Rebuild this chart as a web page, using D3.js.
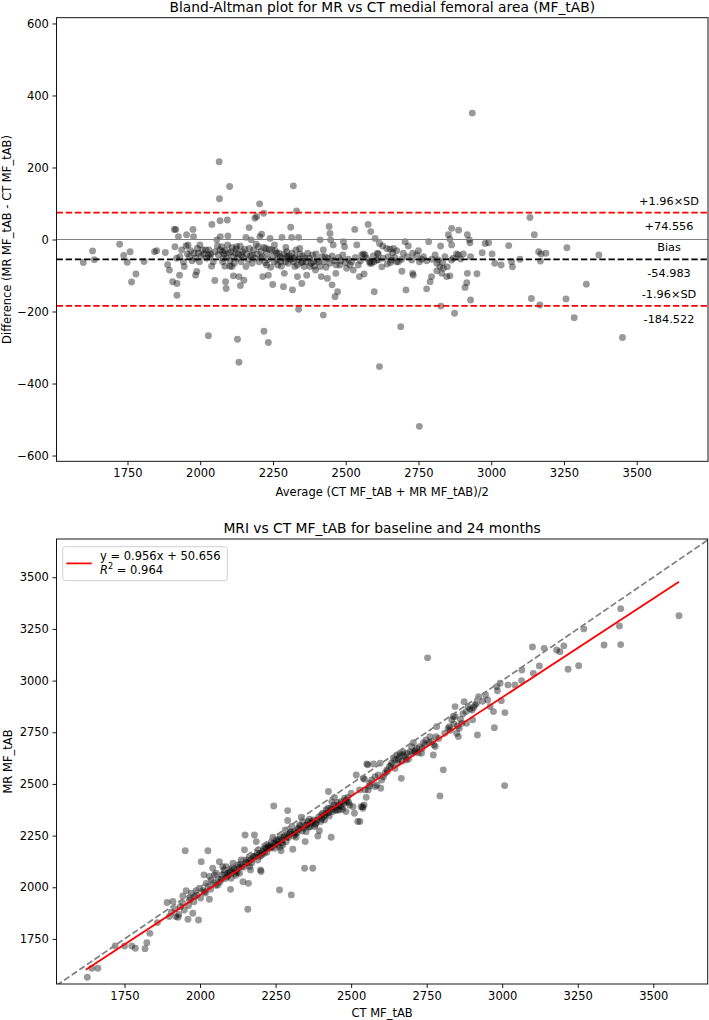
<!DOCTYPE html>
<html><head><meta charset="utf-8">
<script src="https://cdn.jsdelivr.net/npm/d3@7"></script>
<style>
body{margin:0;background:#fff;}
svg text{font-family:"DejaVu Sans",sans-serif;fill:#000;}
</style></head><body>
<svg id="c" width="709" height="1020"></svg>
<script>
// ---------- DATA ----------
const baXTicks = [1750,2000,2250,2500,2750,3000,3250,3500];
const baYTicks = [-600,-400,-200,0,200,400,600];
const baBias = -54.983;
const baUpper = 74.556;
const baLower = -184.522;
const baLabels = ["+1.96×SD","+74.556","Bias","-54.983","-1.96×SD","-184.522"];
// [average, difference]
const baPoints = [
[1598,-64],[1630,-32],[1636,-56],[1723,-13],[1737,-44],[1749,-63],[1759,-34],[1764,-118],[1779,-96],[1807,-61],[1843,-34],[1850,-31],[1880,-36],[1888,-70],[1894,-85],[1905,-117],[1920,-122],[1920,-155],[1911,28],[1916,28],[1925,8],[1929,-99],[1945,-75],[1953,13],[1958,-15],[1975,28],[1977,8],[1984,-99],[1988,-89],[1993,-38],[1999,-15],[2019,-29],[2028,-43],[2034,-48],[2039,-74],[2040,42],[2050,-114],[2057,-1],[2065,216],[2066,113],[2068,52],[2069,8],[2077,-34],[2079,-52],[2085,-74],[2087,-117],[2089,-136],[2093,54],[2095,10],[2101,147],[2102,-74],[2109,-75],[2114,-101],[2121,-38],[2125,-20],[2133,-103],[2138,-128],[2142,-43],[2150,-113],[2157,-75],[2157,6],[2168,33],[2175,-1],[2179,-43],[2188,59],[2194,64],[2200,-20],[2204,99],[2205,8],[2209,-52],[2211,15],[2215,-103],[2218,73],[2225,-25],[2228,-71],[2234,-99],[2240,3],[2246,-29],[2249,-125],[2255,-15],[2263,-38],[2266,-71],[2276,-62],[2281,6],[2286,-131],[2289,-94],[2294,-22],[2298,-48],[2303,-52],[2311,34],[2314,6],[2317,-140],[2320,149],[2322,-52],[2325,-75],[2331,79],[2334,-103],[2338,6],[2342,-25],[2349,-122],[2352,-62],[2360,-52],[2366,-99],[2377,-75],[2389,-62],[2396,-85],[2402,-57],[2412,-1],[2416,-103],[2423,-29],[2429,-48],[2437,-108],[2443,36],[2446,17],[2448,-1],[2453,-126],[2457,-15],[2463,-159],[2466,-94],[2472,-145],[2480,-71],[2492,-6],[2496,-20],[2503,-80],[2515,-71],[2526,-85],[2531,28],[2538,-15],[2547,-103],[2555,-43],[2563,-96],[2566,-43],[2577,42],[2586,22],[2589,-66],[2598,-145],[2601,3],[2609,-38],[2616,-11],
[2028,-267],[2128,-277],[2219,-255],[2234,-286],[2133,-341],[2338,-194],[2423,-210],[2616,-353],[2753,-519],
[1913,-20],[1919,-52],[1930,-48],[1936,-29],[1942,-62],[1951,-18],[1956,-40],[1963,-48],[1967,-31],[1972,-59],[1979,-38],[1983,-52],[1990,-25],[1997,-62],[2003,-46],[2008,-29],[2013,-40],[2022,-52],[2030,-29],[2036,-40],[2045,-62],[2051,-34],[2059,-18],[2062,-43],[2068,-29],[2074,-20],[2077,-62],[2082,-40],[2086,-31],[2091,-50],[2094,-15],[2098,-38],[2102,-59],[2106,-34],[2109,-22],[2114,-48],[2117,-66],[2123,-27],[2128,-52],[2131,-40],[2137,-18],[2140,-62],[2145,-34],[2148,-50],[2153,-27],[2160,-40],[2165,-57],[2169,-25],[2173,-46],[2178,-66],[2183,-29],[2188,-52],[2192,-13],[2196,-40],[2202,-62],[2208,-34],[2213,-48],[2219,-22],[2223,-64],[2228,-38],[2233,-55],[2237,-27],[2242,-77],[2249,-46],[2254,-62],[2258,-31],[2265,-55],[2270,-38],[2274,-48],[2279,-74],[2283,-52],[2288,-40],[2293,-62],[2297,-34],[2302,-66],[2306,-46],[2311,-55],[2315,-38],[2320,-62],[2326,-48],[2329,-29],[2334,-71],[2338,-55],[2343,-40],[2347,-64],[2352,-46],[2357,-75],[2364,-62],[2369,-38],[2375,-52],[2381,-66],[2386,-43],[2392,-74],[2398,-40],[2406,-62],[2412,-75],[2419,-48],[2425,-62],[2432,-77],[2439,-52],[2446,-66],[2453,-46],[2460,-59],[2467,-71],[2475,-50],[2483,-59],[2490,-43],[2499,-64],[2509,-55],[2520,-62],[2533,-50],[2543,-71],[2551,-59],[2561,-40],[2572,-52],[2583,-62],[2595,-46],[2606,-57],[2612,-40],
[2627,-18],[2641,-25],[2652,-27],[2664,-25],[2661,-37],[2675,-31],[2692,-55],[2704,-6],[2715,-18],[2730,-38],[2750,-31],[2761,-55],[2785,-6],[2807,-43],[2826,-18],[2853,13],[2858,1],[2864,31],[2864,-15],[2881,-40],[2888,26],[2904,-40],[2918,13],[2925,-1],[2927,-9],[2929,-48],[2969,-37],[2979,-11],[2991,-9],[3003,-40],[3012,-66],[3034,-71],[3060,-17],[3070,-62],[3073,-76],[3099,-55],[3133,61],[3148,13],[3163,-34],[3169,-60],[3171,-40],[3188,-38],[3260,-23],[3370,-43],
[2583,-66],[2597,-62],[2624,-76],[2643,-68],[2654,-64],[2675,-62],[2693,-88],[2707,-140],[2730,-94],[2732,-99],[2778,-137],[2790,-117],[2795,-103],[2813,-87],[2824,-76],[2830,-94],[2835,-80],[2847,-103],[2858,-101],[2864,-57],[2910,-133],[2916,-120],[2918,-94],[2929,-168],[2951,-95],[3138,-164],[3167,-182],[3257,-165],[3327,-124],[2827,-185],[2874,-205],[2689,-242],[3285,-217],[3451,-272],[2935,351],
[2612,-57],[2629,-52],[2646,-48],[2658,-57],[2669,-50],[2681,-62],[2698,-38],[2712,-48],[2727,-57],[2744,-43],[2753,-62],[2767,-48],[2778,-59],[2796,-55],[2813,-66],[2818,-57],[2833,-63],[2841,-48],[2849,-76],[2870,-52],[2887,-43],[2895,-54]
];

const scXTicks = [1750,2000,2250,2500,2750,3000,3250,3500];
const scYTicks = [1750,2000,2250,2500,2750,3000,3250,3500];
const fitSlope = 0.956;
const fitIntercept = 50.656;
const fitR2 = 0.964;
const fitRange = [1622, 3585];
// [CT, MR]
const scPoints = [
[1627,1565],[1642,1608],[1662,1608],[1719,1716],[1750,1716],[1774,1716],[1786,1705],[1818,1703],[1824,1732],[1834,1777],[1859,1829],[1891,1926],[1898,1858],[1910,1931],[1920,1858],[1927,1855],[1935,1906],[1943,1958],[1951,2177],[1954,1984],[1960,1845],[1965,1939],[1971,1971],[1976,1874],[1982,1955],[1987,1984],[1995,1842],[1998,1995],[2004,2124],[2013,2060],[2015,1979],[2020,2019],[2026,2177],[2031,1942],[2037,2035],[2042,2092],[2048,2060],[2059,2011],[2064,2124],[2070,2039],[2075,2100],[2081,2068],[2086,2100],[2092,2068],[2098,2084],[2101,1990],[2103,2044],[2109,2116],[2114,2068],[2120,2084],[2125,2108],[2131,2068],[2136,2132],[2142,2027],[2147,2181],[2149,2253],[2153,2132],[2158,1894],[2160,2019],[2164,2100],[2169,2132],[2175,2148],[2180,2253],[2186,2221],[2191,2132],[2197,2164],[2200,2084],[2202,2076],[2208,2173],[2213,2164],[2219,2189],[2224,2205],[2230,2189],[2235,2216],[2241,2242],[2244,2393],[2246,2189],[2252,2229],[2257,2205],[2263,1987],[2266,2245],[2268,2177],[2274,2205],[2277,2245],[2282,2277],[2285,2221],[2290,2371],[2290,2323],[2296,2258],[2302,1963],[2304,2294],[2307,2184],[2313,2269],[2318,2242],[2324,2285],[2329,2302],[2335,2339],[2340,2318],[2346,2092],[2348,2221],[2351,2269],[2357,2318],[2362,2329],[2368,2310],[2373,2092],[2376,2326],[2379,2294],[2384,2310],[2390,2248],[2395,2274],[2401,2350],[2406,2358],[2412,2326],[2417,2374],[2423,2382],[2425,2463],[2428,2345],[2434,2242],[2436,2414],[2439,2366],[2445,2435],[2450,2390],[2456,2410],[2461,2374],[2467,2414],[2472,2377],[2478,2431],[2483,2366],[2489,2435],[2495,2398],[2500,2455],[2506,2390],[2511,2358],[2517,2543],[2522,2318],[2528,2471],[2533,2390],[2539,2382],[2544,2523],[2550,2435],[2555,2593],[2561,2490],
[2031,2052],[2053,2068],[2079,2084],[2090,2052],[2105,2092],[2123,2071],[2138,2100],[2156,2116],[2167,2084],[2182,2148],[2193,2181],[2204,2156],[2216,2194],[2233,2194],[2244,2213],[2255,2221],[2264,2194],[2271,2229],[2288,2245],[2299,2269],[2310,2248],[2321,2264],[2332,2294],[2343,2285],[2354,2302],[2365,2294],[2388,2326],[2399,2318],[2410,2342],[2421,2358],[2432,2382],[2443,2398],[2454,2374],[2465,2393],[2476,2406],[2487,2414],
[3585,3314],[3392,3348],[3388,3264],[3392,3174],[3337,3172],[3270,3250],[3253,3072],[3218,3055],[3204,3168],[3191,3140],[3180,3148],[3139,3156],[3100,3163],[3123,3071],[3103,3035],[3065,3051],[3064,3000],[3042,2979],[3019,2979],[3009,2845],[3008,2492],[2993,2987],[2997,2903],[2982,2971],[2984,2951],[2971,2850],[2974,2772],[2960,2874],[2952,2906],[2918,2737],[2922,2922],[2910,2882],[2900,2858],[2902,2810],[2887,2874],[2882,2793],[2874,2898],[2866,2793],[2858,2769],[2855,2729],[2849,2745],[2844,2874],[2844,2826],[2838,2826],[2833,2810],[2825,2777],[2821,2769],[2805,2568],[2794,2442],[2783,2777],[2774,2689],[2778,2681],[2772,2640],[2761,2729],[2748,2713],[2753,3110],[2733,2648],[2717,2672],[2706,2700],[2695,2656],[2682,2616],[2673,2640],[2666,2527],[2662,2648],[2656,2619],[2651,2640],[2640,2624],[2634,2600],[2627,2584],[2618,2568],[2612,2552],[2596,2600],[2590,2543],[2579,2535],[2568,2519],[2557,2471],[2552,2597],[2540,2527],[2546,2471],[2538,2390],[2529,2318],[2543,2398],[2574,2597],[2585,2495],[2598,2479],
[2645,2616],[2660,2632],[2671,2656],[2684,2648],[2700,2680],[2711,2656],[2726,2680],[2739,2700],[2767,2705],[2781,2729],[2562,2503],[2579,2487],[2601,2519],[2607,2535],
[1905,1880],[1918,1895],[1930,1868],[1942,1925],[1948,1890],[1962,1912],[1968,1948],[1980,1930],[1990,1962],[2002,1948],[2010,1985],[2018,1972],[2027,2005],[2035,1990],[2044,2022],[2052,2010],[2060,2040],[2066,2025],[2072,2058],[2084,2042],[2095,2060],[2100,2075],[2112,2090],[2118,2058],[2128,2095],[2134,2112],[2145,2098],[2151,2120],[2162,2140],[2171,2118],[2178,2150],[2189,2165],[2199,2150],[2210,2185],[2221,2170],[2227,2200],[2238,2195],[2249,2210],[2260,2230],[2272,2215],[2280,2250],[2292,2240],[2301,2265],[2315,2258],[2326,2280],[2338,2272],[2350,2300],[2360,2290],[2371,2318],[2382,2305],[2393,2340],[2404,2330],[2415,2352],[2426,2360],[2437,2378],[2448,2372],[2459,2398],[2470,2390],[2481,2420],[2492,2410],
[2620,2560],[2632,2590],[2645,2575],[2655,2600],[2668,2610],[2680,2630],[2690,2620],[2702,2648],[2712,2660],[2722,2650],[2735,2672],[2745,2690],[2758,2700],[2790,2720],[2810,2745],[2828,2760],[2840,2790],[2852,2780],[2862,2812],[2870,2838],[2880,2850],[2893,2862],[2905,2870],[2915,2890],[2935,2900],[2945,2930]
];

// ---------- DRAW ----------
const svg = d3.select("#c");
const FS = 11.5;     // 10pt
const TFS = 13.8;    // 12pt
const LW = 1.73;     // 1.5pt
const DASH = "6.4,2.8";

function frame(g, L, T, R, B) {
  g.append("rect").attr("x", L).attr("y", T).attr("width", R - L).attr("height", B - T)
    .attr("fill", "none").attr("stroke", "#000").attr("stroke-width", 0.92);
}
function axes(g, x, y, L, T, R, B, xt, yt) {
  const fmt = d3.format("d");
  const ax = g.append("g").attr("transform", `translate(0,${B})`)
    .call(d3.axisBottom(x).tickValues(xt).tickFormat(fmt).tickSize(4).tickPadding(3.6).tickSizeOuter(0));
  const ay = g.append("g").attr("transform", `translate(${L},0)`)
    .call(d3.axisLeft(y).tickValues(yt).tickFormat(fmt).tickSize(4).tickPadding(3.6).tickSizeOuter(0));
  [ax, ay].forEach(a => {
    a.select(".domain").remove();
    a.selectAll("line").attr("stroke", "#000").attr("stroke-width", 0.92);
    a.selectAll("text").attr("font-size", FS).attr("font-family", "DejaVu Sans").attr("fill", "#000");
  });
}

// ===== Top: Bland-Altman =====
{
  const L = 56.5, T = 17.7, R = 708, B = 461.3;
  const x = d3.scaleLinear([1506, 3745], [L, R]);
  const y = d3.scaleLinear([-616, 616], [B, T]);
  const g = svg.append("g");
  g.append("g").selectAll("circle").data(baPoints).join("circle")
    .attr("cx", d => x(d[0])).attr("cy", d => y(d[1])).attr("r", 3.45)
    .attr("fill", "#000").attr("fill-opacity", 0.4);
  g.append("line").attr("x1", L).attr("x2", R).attr("y1", y(0)).attr("y2", y(0))
    .attr("stroke", "#808080").attr("stroke-width", 1.15);
  g.append("line").attr("x1", L).attr("x2", R).attr("y1", y(baBias)).attr("y2", y(baBias))
    .attr("stroke", "#000").attr("stroke-width", LW).attr("stroke-dasharray", DASH);
  [baUpper, baLower].forEach(v => {
    g.append("line").attr("x1", L).attr("x2", R).attr("y1", y(v)).attr("y2", y(v))
      .attr("stroke", "#ff0000").attr("stroke-width", LW).attr("stroke-dasharray", DASH);
  });
  const lineVals = [baUpper, baUpper, baBias, baBias, baLower, baLower];
  const offs = [-11.5, 14, -11.5, 14, -11.5, 14];
  baLabels.forEach((t, i) => {
    g.append("text").attr("x", 669).attr("y", y(lineVals[i]) + offs[i])
      .attr("text-anchor", "middle").attr("dominant-baseline", "central")
      .attr("font-size", 11.3).text(t);
  });
  frame(g, L, T, R, B);
  axes(g, x, y, L, T, R, B, baXTicks, baYTicks);
  g.append("text").attr("x", (L + R) / 2).attr("y", 12.3).attr("text-anchor", "middle")
    .attr("font-size", TFS).text("Bland-Altman plot for MR vs CT medial femoral area (MF_tAB)");
  g.append("text").attr("x", (L + R) / 2).attr("y", 496).attr("text-anchor", "middle")
    .attr("font-size", FS).text("Average (CT MF_tAB + MR MF_tAB)/2");
  g.append("text").attr("transform", `translate(11,${(T + B) / 2}) rotate(-90)`)
    .attr("text-anchor", "middle").attr("font-size", FS).text("Difference (MR MF_tAB - CT MF_tAB)");
}

// ===== Bottom: scatter =====
{
  const L = 56.5, T = 539, R = 707.7, B = 984;
  const x = d3.scaleLinear([1525, 3680], [L, R]);
  const y = d3.scaleLinear([1532, 3685], [B, T]);
  const g = svg.append("g");
  svg.append("clipPath").attr("id", "clipB").append("rect")
    .attr("x", L).attr("y", T).attr("width", R - L).attr("height", B - T);
  g.append("g").selectAll("circle").data(scPoints).join("circle")
    .attr("cx", d => x(d[0])).attr("cy", d => y(d[1])).attr("r", 3.45)
    .attr("fill", "#000").attr("fill-opacity", 0.4);
  g.append("line").attr("x1", x(1500)).attr("y1", y(1500)).attr("x2", x(3700)).attr("y2", y(3700))
    .attr("stroke", "#808080").attr("stroke-width", LW).attr("stroke-dasharray", DASH)
    .attr("clip-path", "url(#clipB)");
  g.append("line")
    .attr("x1", x(fitRange[0])).attr("y1", y(fitSlope * fitRange[0] + fitIntercept))
    .attr("x2", x(fitRange[1])).attr("y2", y(fitSlope * fitRange[1] + fitIntercept))
    .attr("stroke", "#ff0000").attr("stroke-width", LW);
  frame(g, L, T, R, B);
  axes(g, x, y, L, T, R, B, scXTicks, scYTicks);
  // legend
  const lg = g.append("g");
  lg.append("rect").attr("x", 62.7).attr("y", 546.7).attr("width", 164.6).attr("height", 34)
    .attr("rx", 2.5).attr("fill", "#fff").attr("fill-opacity", 0.8)
    .attr("stroke", "#cccccc").attr("stroke-width", 0.92);
  lg.append("line").attr("x1", 66.3).attr("x2", 91.7).attr("y1", 563.4).attr("y2", 563.4)
    .attr("stroke", "#ff0000").attr("stroke-width", LW);
  lg.append("text").attr("x", 100).attr("y", 559.6).attr("font-size", FS)
    .text(`y = ${fitSlope.toFixed(3)}x + ${fitIntercept.toFixed(3)}`);
  const t2 = lg.append("text").attr("x", 100).attr("y", 573.5).attr("font-size", FS);
  t2.append("tspan").attr("font-style", "italic").text("R");
  t2.append("tspan").attr("font-size", 8.1).attr("dy", -4.5).text("2");
  t2.append("tspan").attr("dy", 4.5).text(` = ${fitR2.toFixed(3)}`);
  g.append("text").attr("x", (L + R) / 2).attr("y", 533.3).attr("text-anchor", "middle")
    .attr("font-size", TFS).text("MRI vs CT MF_tAB for baseline and 24 months");
  g.append("text").attr("x", (L + R) / 2).attr("y", 1017).attr("text-anchor", "middle")
    .attr("font-size", FS).text("CT MF_tAB");
  g.append("text").attr("transform", `translate(11.5,${(T + B) / 2}) rotate(-90)`)
    .attr("text-anchor", "middle").attr("font-size", FS).text("MR MF_tAB");
}
</script></body></html>
